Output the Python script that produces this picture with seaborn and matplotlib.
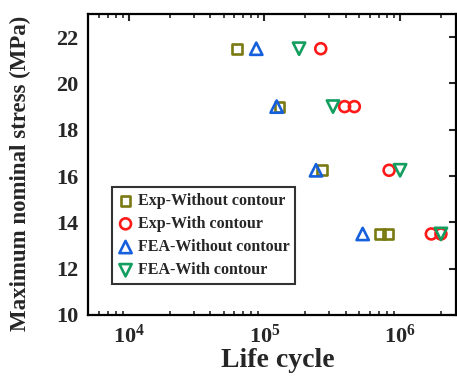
import numpy as np
import pandas as pd
import matplotlib
matplotlib.use("Agg")
import matplotlib.pyplot as plt
import seaborn as sns
from matplotlib.ticker import LogLocator, LogFormatterSciNotation, NullFormatter

# Data
exp_wo_life = [6.3e4, 1.29e5, 2.66e5, 7.1e5, 8.1e5]
exp_wo_stress = [21.5, 19.0, 16.25, 13.5, 13.5]
exp_w_life = [2.6e5, 3.9e5, 4.6e5, 8.3e5, 1.7e6, 2.0e6]
exp_w_stress = [21.5, 19.0, 19.0, 16.25, 13.5, 13.5]
fea_wo_life = [8.7e4, 1.23e5, 2.4e5, 5.3e5]
fea_wo_stress = [21.5, 19.0, 16.25, 13.5]
fea_w_life = [1.8e5, 3.2e5, 1.0e6, 2.0e6]
fea_w_stress = [21.5, 19.0, 16.25, 13.5]
labels = ["Exp-Without contour", "Exp-With contour", "FEA-Without contour", "FEA-With contour"]

sns.set_theme(style="white")
plt.rcParams["font.family"] = ["Liberation Serif", "DejaVu Serif"]
plt.rcParams["font.weight"] = "bold"
plt.rcParams["mathtext.fontset"] = "custom"
plt.rcParams["mathtext.rm"] = "Liberation Serif:bold"
plt.rcParams["mathtext.it"] = "Liberation Serif:bold"
plt.rcParams["mathtext.bf"] = "Liberation Serif:bold"

series = [
    (exp_wo_life, exp_wo_stress, "s", "#7a7a12", 50),
    (exp_w_life, exp_w_stress, "o", "#ff1a1a", 62),
    (fea_wo_life, fea_wo_stress, "^", "#1660dd", 78),
    (fea_w_life, fea_w_stress, "v", "#119e5e", 78),
]

fig = plt.figure(figsize=(4.57, 3.82), dpi=100)
ax = fig.add_axes([0.1926, 0.1754, 0.806, 0.788])

for (xs, ys, m, c, s), lab in zip(series, labels):
    df = pd.DataFrame({"life": xs, "stress": ys})
    sns.scatterplot(data=df, x="life", y="stress", marker=m, s=s,
                    facecolor="none", edgecolor=c, linewidth=1.9,
                    label=lab, ax=ax, zorder=3)

ax.set_xscale("log")
ax.set_xlim(5000, 2.6e6)
ax.set_ylim(10, 23)
ax.set_yticks([10, 12, 14, 16, 18, 20, 22])
ax.xaxis.set_major_locator(LogLocator(base=10, numticks=10))
ax.xaxis.set_major_formatter(LogFormatterSciNotation())
ax.xaxis.set_minor_locator(LogLocator(base=10, subs=np.arange(2, 10), numticks=20))
ax.xaxis.set_minor_formatter(NullFormatter())

ax.tick_params(axis="both", which="major", direction="in", length=5, width=1.5,
               top=True, right=True, labelsize=16, pad=7)
ax.tick_params(axis="x", which="minor", direction="in", length=3, width=1.2,
               top=True, bottom=True)
for lab in ax.get_xticklabels() + ax.get_yticklabels():
    lab.set_fontweight("bold")
for sp in ax.spines.values():
    sp.set_linewidth(1.6)
    sp.set_color("black")

ax.set_xlabel("Life cycle", fontsize=20, fontweight="bold")
ax.xaxis.set_label_coords(0.515, -0.108)
ax.set_ylabel("Maximum nominal stress (MPa)", fontsize=16.5, fontweight="bold")
ax.yaxis.set_label_coords(-0.155, 0.47)

leg = ax.legend(loc="lower left", bbox_to_anchor=(0.065, 0.103), borderaxespad=0,
                frameon=True, fancybox=False, prop={"size": 11.5, "weight": "bold"},
                handletextpad=0.25, handlelength=1.0, borderpad=0.35, labelspacing=0.45)
leg.get_frame().set_edgecolor("black")
leg.get_frame().set_linewidth(1.5)

fig.savefig("out.png", dpi=100)
